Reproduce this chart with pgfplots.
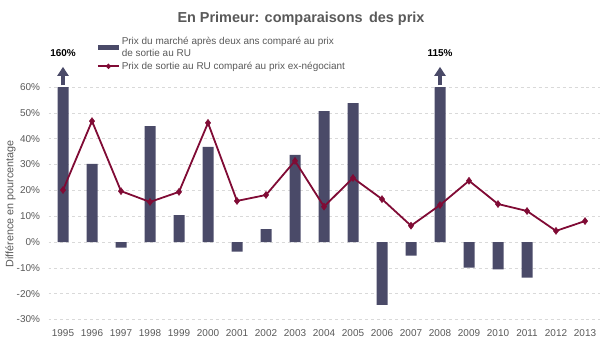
\documentclass[border=0pt]{standalone}
\usepackage{pgfplots}
\pgfplotsset{compat=1.18}
\usepackage{fontspec}
\setmainfont{Liberation Sans}
\usetikzlibrary{arrows.meta}
\definecolor{barc}{HTML}{4A4A68}
\definecolor{linec}{HTML}{800B35}
\definecolor{txt}{HTML}{595959}
\definecolor{gridc}{HTML}{D9D9D9}
\begin{document}
\begin{tikzpicture}[x=1bp,y=1bp]
\useasboundingbox (0,0) rectangle (602,352);
\node[font=\fontsize{14.5}{16}\selectfont\bfseries, text=txt] at (301,333) {En Primeur: comparaisons\, des prix};
\begin{axis}[
  at={(48.5bp,32.5bp)}, anchor=south west,
  scale only axis, width=551bp, height=232.5bp,
  xmin=-0.5, xmax=18.5, ymin=-30, ymax=60,
  clip mode=individual,
  axis line style={draw=none},
  major tick length=0pt,
  xtick={0,...,18},
  xticklabels={1995,1996,1997,1998,1999,2000,2001,2002,2003,2004,2005,2006,2007,2008,2009,2010,2011,2012,2013},
  ytick={-30,-20,...,60},
  yticklabels={-30\%,-20\%,-10\%,0\%,10\%,20\%,30\%,40\%,50\%,60\%},
  ymajorgrids, xmajorgrids=false,
  grid style={gridc, dashed, line width=0.6bp},
  tick label style={font=\fontsize{10}{12}\selectfont, text=txt},
  xticklabel style={yshift=-7bp},
  yticklabel style={xshift=-5bp},
  ylabel={Différence en pourcentage},
  ylabel style={font=\fontsize{10.8}{12}\selectfont, text=txt, at={(axis description cs:-0.069,0.497)}, anchor=center, rotate=0},
  legend style={at={(rel axis cs:0.088,1.222)}, anchor=north west, draw=none, fill=none,
    font=\fontsize{10}{11.5}\selectfont, text=txt, cells={align=left, anchor=west},
    row sep=0bp, inner sep=0pt},
  legend cell align=left,
]
\addplot[ybar, bar width=11bp, bar shift=0pt, fill=barc, draw=none,
  legend image code/.code={\fill[barc] (0bp,-2.5bp) rectangle (21bp,3bp);}]
  coordinates {(0,160) (1,30.2) (2,-2.2) (3,44.9) (4,10.4) (5,36.8) (6,-3.7) (7,5.0) (8,33.7)
   (9,50.7) (10,53.8) (11,-24.3) (12,-5.3) (13,115) (14,-9.9) (15,-10.6) (16,-13.8)};
\addlegendentry{Prix du marché après deux ans comparé au prix\\de sortie au RU}
\addplot[linec, line width=1.8bp, mark=diamond*, mark size=3.5bp, mark options={fill=linec, draw=linec, line width=0.5bp},
  legend image code/.code={\draw[linec, line width=1.6bp] (0bp,0bp) -- (21bp,0bp); \fill[linec] (10.5bp,0bp) ++(-1.5bp,0) -- ++(1.5bp,1.5bp) -- ++(1.5bp,-1.5bp) -- ++(-1.5bp,-1.5bp) -- cycle;}]
  coordinates {(0,20.1) (1,46.8) (2,19.7) (3,15.5) (4,19.4) (5,46.1) (6,15.9) (7,18.2) (8,31.4)
   (9,13.7) (10,24.8) (11,16.6) (12,6.3) (13,14.3) (14,23.7) (15,14.7) (16,12.0) (17,4.3) (18,8.1)};
\addlegendentry{Prix de sortie au RU comparé au prix ex-négociant}
\draw[barc, line width=4.5bp, -{Triangle[width=11bp,length=9bp]}] (axis cs:0,60.6) -- (axis cs:0,67.8);
\draw[barc, line width=4.5bp, -{Triangle[width=11bp,length=9bp]}] (axis cs:13,60.6) -- (axis cs:13,67.8);
\node[font=\fontsize{10}{12}\selectfont\bfseries, text=black] at (axis cs:0,73.3) {160\%};
\node[font=\fontsize{10}{12}\selectfont\bfseries, text=black] at (axis cs:13,73.3) {115\%};
\end{axis}
\end{tikzpicture}
\end{document}
